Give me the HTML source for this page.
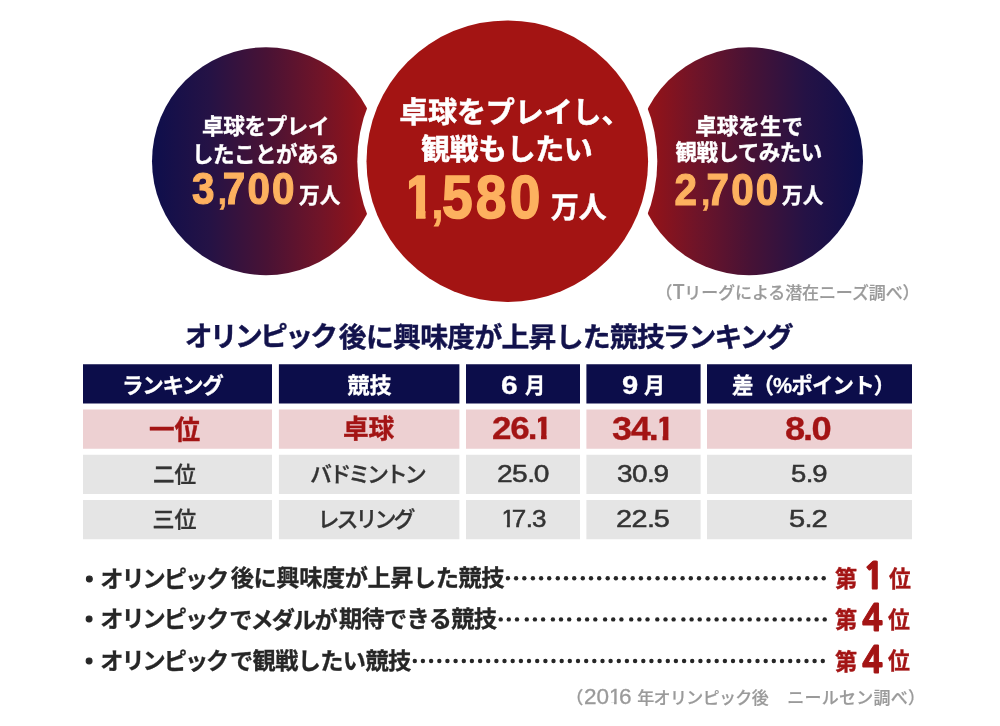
<!DOCTYPE html>
<html lang="ja">
<head>
<meta charset="utf-8">
<title>卓球の潜在ニーズ</title>
<style>
*{margin:0;padding:0;box-sizing:border-box}
html,body{width:1000px;height:726px;background:#fff;overflow:hidden}
body{position:relative;font-family:"Liberation Sans","Noto Sans CJK JP",sans-serif;color:#333}
.t{position:absolute;white-space:nowrap;line-height:1;font-weight:700;transform-origin:0 0;paint-order:stroke fill}
svg.bg{position:absolute;left:0;top:0}
.ib,.ir,.ir2{display:inline-block}
.ir2{clip-path:polygon(.1em 0,.38em 0,.38em .72em,.352em .72em,.352em 1em,.239em 1em,.239em .72em,.1em .72em);margin:0 -.1em 0 -.02em}
.ib{clip-path:polygon(.135em 0,.42em 0,.42em .7em,.382em .7em,.382em 1em,.222em 1em,.222em .7em,.135em .7em);margin:0 -.17em 0 -.07em}
.ir{clip-path:polygon(.115em 0,.38em 0,.38em .72em,.352em .72em,.352em 1em,.239em 1em,.239em .72em,.115em .72em);margin:0 -.11em 0 -.05em}
.pb{margin:0 -.01em 0 -.02em}
.pr{margin:0 -.02em 0 0}
</style>
</head>
<body>
<svg class="bg" width="1000" height="726" viewBox="0 0 1000 726">
  <defs>
    <linearGradient id="gl" x1="0" y1="0" x2="1" y2="0">
      <stop offset="0" stop-color="#0e0f4c"/>
      <stop offset=".035" stop-color="#110f4b"/>
      <stop offset=".254" stop-color="#251245"/>
      <stop offset=".5" stop-color="#481235"/>
      <stop offset=".737" stop-color="#701428"/>
      <stop offset=".886" stop-color="#8b131c"/>
      <stop offset="1" stop-color="#a01417"/>
    </linearGradient>
    <linearGradient id="gr" x1="0" y1="0" x2="1" y2="0">
      <stop offset="0" stop-color="#a01417"/>
      <stop offset=".114" stop-color="#8b131c"/>
      <stop offset=".263" stop-color="#701428"/>
      <stop offset=".5" stop-color="#481235"/>
      <stop offset=".746" stop-color="#251245"/>
      <stop offset=".965" stop-color="#110f4b"/>
      <stop offset="1" stop-color="#0e0f4c"/>
    </linearGradient>
    <clipPath id="c1"><path d="M5.6 -61.7H24.1V6.2H13.5V-7.7H5.6Z"/></clipPath>
  </defs>
  <circle cx="266" cy="161.2" r="114" fill="url(#gl)"/>
  <circle cx="749" cy="161.2" r="114" fill="url(#gr)"/>
  <circle cx="507.3" cy="161.2" r="150" fill="#fff"/>
  <circle cx="507.3" cy="161.2" r="140.8" fill="#a31413"/>
  <path fill="#0c0d4a" d="M83 364.3H272V403.6H83ZM278.9 364.3H459.4V403.6H278.9ZM466 364.3H580V403.6H466ZM586.4 364.3H700.6V403.6H586.4ZM707 364.3H912V403.6H707Z"/>
  <path fill="#edd0d2" d="M83 409.5H272V448.8H83ZM278.9 409.5H459.4V448.8H278.9ZM466 409.5H580V448.8H466ZM586.4 409.5H700.6V448.8H586.4ZM707 409.5H912V448.8H707Z"/>
  <path fill="#e5e5e5" d="M83 454.7H272V494.0H83ZM278.9 454.7H459.4V494.0H278.9ZM466 454.7H580V494.0H466ZM586.4 454.7H700.6V494.0H586.4ZM707 454.7H912V494.0H707Z"/>
  <path fill="#e5e5e5" d="M83 499.9H272V539.2H83ZM278.9 499.9H459.4V539.2H278.9ZM466 499.9H580V539.2H466ZM586.4 499.9H700.6V539.2H586.4ZM707 499.9H912V539.2H707Z"/>
  <g fill="#262626">
<circle cx="507.9" cy="578.2" r="2.2"/>
<circle cx="516.1" cy="578.2" r="2.2"/>
<circle cx="524.3" cy="578.2" r="2.2"/>
<circle cx="532.9" cy="578.2" r="2.2"/>
<circle cx="541.1" cy="578.2" r="2.2"/>
<circle cx="549.2" cy="578.2" r="2.2"/>
<circle cx="557.8" cy="578.2" r="2.2"/>
<circle cx="566.0" cy="578.2" r="2.2"/>
<circle cx="574.2" cy="578.2" r="2.2"/>
<circle cx="582.8" cy="578.2" r="2.2"/>
<circle cx="591.0" cy="578.2" r="2.2"/>
<circle cx="599.2" cy="578.2" r="2.2"/>
<circle cx="607.7" cy="578.2" r="2.2"/>
<circle cx="615.9" cy="578.2" r="2.2"/>
<circle cx="624.1" cy="578.2" r="2.2"/>
<circle cx="632.7" cy="578.2" r="2.2"/>
<circle cx="640.9" cy="578.2" r="2.2"/>
<circle cx="649.1" cy="578.2" r="2.2"/>
<circle cx="657.6" cy="578.2" r="2.2"/>
<circle cx="665.8" cy="578.2" r="2.2"/>
<circle cx="674.0" cy="578.2" r="2.2"/>
<circle cx="682.6" cy="578.2" r="2.2"/>
<circle cx="690.8" cy="578.2" r="2.2"/>
<circle cx="699.0" cy="578.2" r="2.2"/>
<circle cx="707.5" cy="578.2" r="2.2"/>
<circle cx="715.7" cy="578.2" r="2.2"/>
<circle cx="723.9" cy="578.2" r="2.2"/>
<circle cx="732.5" cy="578.2" r="2.2"/>
<circle cx="740.7" cy="578.2" r="2.2"/>
<circle cx="748.9" cy="578.2" r="2.2"/>
<circle cx="757.4" cy="578.2" r="2.2"/>
<circle cx="765.6" cy="578.2" r="2.2"/>
<circle cx="773.8" cy="578.2" r="2.2"/>
<circle cx="782.4" cy="578.2" r="2.2"/>
<circle cx="790.6" cy="578.2" r="2.2"/>
<circle cx="798.8" cy="578.2" r="2.2"/>
<circle cx="807.3" cy="578.2" r="2.2"/>
<circle cx="815.5" cy="578.2" r="2.2"/>
<circle cx="823.7" cy="578.2" r="2.2"/>
<circle cx="500.7" cy="619.4" r="2.2"/>
<circle cx="508.8" cy="619.4" r="2.2"/>
<circle cx="517.0" cy="619.4" r="2.2"/>
<circle cx="526.8" cy="619.4" r="2.2"/>
<circle cx="534.9" cy="619.4" r="2.2"/>
<circle cx="543.1" cy="619.4" r="2.2"/>
<circle cx="552.9" cy="619.4" r="2.2"/>
<circle cx="561.0" cy="619.4" r="2.2"/>
<circle cx="569.2" cy="619.4" r="2.2"/>
<circle cx="579.0" cy="619.4" r="2.2"/>
<circle cx="587.1" cy="619.4" r="2.2"/>
<circle cx="595.3" cy="619.4" r="2.2"/>
<circle cx="605.1" cy="619.4" r="2.2"/>
<circle cx="613.2" cy="619.4" r="2.2"/>
<circle cx="621.4" cy="619.4" r="2.2"/>
<circle cx="631.2" cy="619.4" r="2.2"/>
<circle cx="639.4" cy="619.4" r="2.2"/>
<circle cx="647.5" cy="619.4" r="2.2"/>
<circle cx="657.3" cy="619.4" r="2.2"/>
<circle cx="665.5" cy="619.4" r="2.2"/>
<circle cx="673.6" cy="619.4" r="2.2"/>
<circle cx="683.4" cy="619.4" r="2.2"/>
<circle cx="691.6" cy="619.4" r="2.2"/>
<circle cx="699.7" cy="619.4" r="2.2"/>
<circle cx="708.4" cy="619.4" r="2.2"/>
<circle cx="716.6" cy="619.4" r="2.2"/>
<circle cx="724.7" cy="619.4" r="2.2"/>
<circle cx="733.4" cy="619.4" r="2.2"/>
<circle cx="741.6" cy="619.4" r="2.2"/>
<circle cx="749.7" cy="619.4" r="2.2"/>
<circle cx="758.4" cy="619.4" r="2.2"/>
<circle cx="766.6" cy="619.4" r="2.2"/>
<circle cx="774.7" cy="619.4" r="2.2"/>
<circle cx="783.4" cy="619.4" r="2.2"/>
<circle cx="791.6" cy="619.4" r="2.2"/>
<circle cx="799.7" cy="619.4" r="2.2"/>
<circle cx="808.4" cy="619.4" r="2.2"/>
<circle cx="816.6" cy="619.4" r="2.2"/>
<circle cx="824.7" cy="619.4" r="2.2"/>
<circle cx="414.8" cy="661.0" r="2.2"/>
<circle cx="422.9" cy="661.0" r="2.2"/>
<circle cx="431.1" cy="661.0" r="2.2"/>
<circle cx="439.3" cy="661.0" r="2.2"/>
<circle cx="447.4" cy="661.0" r="2.2"/>
<circle cx="455.6" cy="661.0" r="2.2"/>
<circle cx="463.8" cy="661.0" r="2.2"/>
<circle cx="471.9" cy="661.0" r="2.2"/>
<circle cx="480.1" cy="661.0" r="2.2"/>
<circle cx="488.2" cy="661.0" r="2.2"/>
<circle cx="496.4" cy="661.0" r="2.2"/>
<circle cx="504.5" cy="661.0" r="2.2"/>
<circle cx="512.7" cy="661.0" r="2.2"/>
<circle cx="520.9" cy="661.0" r="2.2"/>
<circle cx="529.0" cy="661.0" r="2.2"/>
<circle cx="537.2" cy="661.0" r="2.2"/>
<circle cx="545.4" cy="661.0" r="2.2"/>
<circle cx="553.5" cy="661.0" r="2.2"/>
<circle cx="561.7" cy="661.0" r="2.2"/>
<circle cx="569.8" cy="661.0" r="2.2"/>
<circle cx="578.0" cy="661.0" r="2.2"/>
<circle cx="586.2" cy="661.0" r="2.2"/>
<circle cx="594.3" cy="661.0" r="2.2"/>
<circle cx="602.5" cy="661.0" r="2.2"/>
<circle cx="610.6" cy="661.0" r="2.2"/>
<circle cx="618.8" cy="661.0" r="2.2"/>
<circle cx="626.9" cy="661.0" r="2.2"/>
<circle cx="635.1" cy="661.0" r="2.2"/>
<circle cx="643.3" cy="661.0" r="2.2"/>
<circle cx="651.4" cy="661.0" r="2.2"/>
<circle cx="659.6" cy="661.0" r="2.2"/>
<circle cx="667.8" cy="661.0" r="2.2"/>
<circle cx="675.9" cy="661.0" r="2.2"/>
<circle cx="684.1" cy="661.0" r="2.2"/>
<circle cx="692.2" cy="661.0" r="2.2"/>
<circle cx="700.4" cy="661.0" r="2.2"/>
<circle cx="708.6" cy="661.0" r="2.2"/>
<circle cx="716.7" cy="661.0" r="2.2"/>
<circle cx="724.9" cy="661.0" r="2.2"/>
<circle cx="733.0" cy="661.0" r="2.2"/>
<circle cx="741.2" cy="661.0" r="2.2"/>
<circle cx="749.3" cy="661.0" r="2.2"/>
<circle cx="757.5" cy="661.0" r="2.2"/>
<circle cx="765.7" cy="661.0" r="2.2"/>
<circle cx="773.8" cy="661.0" r="2.2"/>
<circle cx="782.0" cy="661.0" r="2.2"/>
<circle cx="790.2" cy="661.0" r="2.2"/>
<circle cx="798.3" cy="661.0" r="2.2"/>
<circle cx="806.5" cy="661.0" r="2.2"/>
<circle cx="814.6" cy="661.0" r="2.2"/>
<circle cx="822.8" cy="661.0" r="2.2"/>
  </g>
</svg>
<div id="l1" class="t" style="left:202.10px;top:117.20px;font-size:21.50px;color:#fff;letter-spacing:-0.32px;-webkit-text-stroke:0.4px #fff">卓球をプレイ</div>
<div id="l2" class="t" style="left:192.10px;top:144.90px;font-size:21.50px;color:#fff;letter-spacing:-0.51px;-webkit-text-stroke:0.4px #fff">したことがある</div>
<svg class="bg" width="1000" height="726" viewBox="0 0 1000 726"><g id="l3" transform="translate(191.90 204.00) scale(0.906 1)" font-family="'Liberation Sans',sans-serif" font-weight="700" font-size="44.60" fill="#fdb15f" stroke="#fdb15f" stroke-width="1.2" stroke-linejoin="miter" stroke-miterlimit="3"><text>3</text><text class="cm" x="28.5" font-size="37" stroke-width=".6">,</text><text x="34 61.3 88.4">700</text></g></svg>
<div id="l4" class="t" style="left:299.40px;top:185.70px;font-size:21.50px;color:#fff;-webkit-text-stroke:0.4px #fff;transform:scaleX(0.963)">万人</div>
<div id="m1" class="t" style="left:399.15px;top:99.30px;font-size:29.00px;color:#fff;letter-spacing:-0.10px;-webkit-text-stroke:0.5px #fff">卓球をプレイし、</div>
<div id="m2" class="t" style="left:420.90px;top:135.85px;font-size:29.00px;color:#fff;letter-spacing:-0.42px;-webkit-text-stroke:0.5px #fff">観戦もしたい</div>
<svg class="bg" width="1000" height="726" viewBox="0 0 1000 726"><g id="m3" transform="translate(403.95 218.25) scale(0.894 1)" font-family="'Liberation Sans',sans-serif" font-weight="700" font-size="61.70" fill="#fdb15f" stroke="#fdb15f" stroke-width="1.6" stroke-linejoin="miter" stroke-miterlimit="3"><text clip-path="url(#c1)">1</text><text class="cm" x="30.5" font-size="50" stroke-width=".8">,</text><text x="42.6 80.2 118.3">580</text></g></svg>
<div id="m4" class="t" style="left:550.80px;top:193.80px;font-size:29.00px;color:#fff;-webkit-text-stroke:0.5px #fff;transform:scaleX(0.958)">万人</div>
<div id="r1" class="t" style="left:695.20px;top:117.20px;font-size:21.50px;color:#fff;letter-spacing:0.08px;-webkit-text-stroke:0.4px #fff">卓球を生で</div>
<div id="r2" class="t" style="left:675.50px;top:143.35px;font-size:21.50px;color:#fff;letter-spacing:-0.51px;-webkit-text-stroke:0.4px #fff">観戦してみたい</div>
<svg class="bg" width="1000" height="726" viewBox="0 0 1000 726"><g id="r3" transform="translate(674.50 204.50) scale(0.906 1)" font-family="'Liberation Sans',sans-serif" font-weight="700" font-size="44.60" fill="#fdb15f" stroke="#fdb15f" stroke-width="1.2" stroke-linejoin="miter" stroke-miterlimit="3"><text>2</text><text class="cm" x="29.3" font-size="37" stroke-width=".6">,</text><text x="35.2 62.6 89.8">700</text></g></svg>
<div id="r4" class="t" style="left:782.00px;top:185.70px;font-size:21.50px;color:#fff;-webkit-text-stroke:0.4px #fff;transform:scaleX(0.963)">万人</div>
<div id="cap" class="t" style="left:655.50px;top:280.90px;font-size:17.00px;color:#9a9a9a;font-weight:500;font-family:'Noto Sans CJK JP','Liberation Sans',sans-serif;letter-spacing:-0.11px;-webkit-text-stroke:0.2px #9a9a9a">（<span style="font-size:1.18em;letter-spacing:-.3px">T</span>リーグによる潜在ニーズ調べ）</div>
<div class="ln">
<span id="ttl1" class="t" style="left:184.75px;top:322.90px;font-size:27.80px;color:#12124c;letter-spacing:-2.70px;-webkit-text-stroke:0.4px #12124c">オリンピック</span>
<span id="ttl2" class="t" style="left:338.80px;top:323.75px;font-size:27.80px;color:#12124c;letter-spacing:-0.68px;-webkit-text-stroke:0.4px #12124c">後に興味度が上昇した競技</span>
<span id="ttl3" class="t" style="left:662.50px;top:323.50px;font-size:27.80px;color:#12124c;letter-spacing:-1.80px;-webkit-text-stroke:0.4px #12124c">ランキング</span>
</div>
<div id="h1" class="t" style="left:122.00px;top:375.50px;font-size:21.50px;color:#fff;letter-spacing:-1.28px;-webkit-text-stroke:0.3px #fff">ランキング</div>
<div id="h2" class="t" style="left:347.40px;top:375.00px;font-size:22.00px;color:#fff;-webkit-text-stroke:0.3px #fff">競技</div>
<div id="h3a" class="t" style="left:501.10px;top:372.60px;font-size:24.93px;color:#fff;font-family:'Liberation Sans',sans-serif;-webkit-text-stroke:0.3px #fff;transform:scaleX(1.199)">6</div>
<div id="h3b" class="t" style="left:525.10px;top:374.50px;font-size:22.00px;color:#fff;-webkit-text-stroke:0.3px #fff;transform:scaleX(0.917)">月</div>
<div id="h4a" class="t" style="left:622.00px;top:372.60px;font-size:24.93px;color:#fff;font-family:'Liberation Sans',sans-serif;-webkit-text-stroke:0.3px #fff;transform:scaleX(1.170)">9</div>
<div id="h4b" class="t" style="left:644.30px;top:374.50px;font-size:22.00px;color:#fff;-webkit-text-stroke:0.3px #fff;transform:scaleX(0.958)">月</div>
<div id="h5" class="t" style="left:731.90px;top:375.90px;font-size:21.50px;color:#fff;letter-spacing:-0.89px;-webkit-text-stroke:0.3px #fff">差（%ポイント）</div>
<div id="a1" class="t" style="left:148.80px;top:416.60px;font-size:26.00px;color:#a31414;-webkit-text-stroke:0.4px #a31414;transform:scaleX(0.985)">一位</div>
<div id="a2" class="t" style="left:342.70px;top:416.00px;font-size:26.00px;color:#a31414;-webkit-text-stroke:0.4px #a31414;transform:scaleX(0.985)">卓球</div>
<div id="a3" class="t" style="left:492.30px;top:411.75px;font-size:31.98px;color:#a31414;font-family:'Liberation Sans',sans-serif;letter-spacing:-1.20px;-webkit-text-stroke:0.3px #a31414;transform:scaleX(1.095)">26<span class="pb">.</span><span class="ib">1</span></div>
<div id="a4" class="t" style="left:612.30px;top:413.20px;font-size:32.55px;color:#a31414;font-family:'Liberation Sans',sans-serif;letter-spacing:-1.20px;-webkit-text-stroke:0.3px #a31414;transform:scaleX(1.109)">34<span class="pb">.</span><span class="ib">1</span></div>
<div id="a5" class="t" style="left:785.40px;top:413.20px;font-size:32.55px;color:#a31414;font-family:'Liberation Sans',sans-serif;letter-spacing:-1.20px;-webkit-text-stroke:0.3px #a31414;transform:scaleX(1.114)">8<span class="pb">.</span>0</div>
<div id="b1" class="t" style="left:153.00px;top:464.00px;font-size:22.00px;color:#333;font-weight:500;-webkit-text-stroke:0.3px #333;transform:scaleX(0.981)">二位</div>
<div id="b2" class="t" style="left:310.00px;top:463.50px;font-size:22.00px;color:#333;font-weight:500;letter-spacing:-3.20px;-webkit-text-stroke:0.3px #333">バドミントン</div>
<div id="b3" class="t" style="left:497.00px;top:462.00px;font-size:24.40px;color:#333;font-weight:400;font-family:'Liberation Sans',sans-serif;letter-spacing:-0.50px;-webkit-text-stroke:0.5px #333;transform:scaleX(1.153)">25<span class="pr">.</span>0</div>
<div id="b4" class="t" style="left:617.40px;top:462.00px;font-size:24.40px;color:#333;font-weight:400;font-family:'Liberation Sans',sans-serif;letter-spacing:-0.50px;-webkit-text-stroke:0.5px #333;transform:scaleX(1.146)">30<span class="pr">.</span>9</div>
<div id="b5" class="t" style="left:790.60px;top:462.00px;font-size:24.40px;color:#333;font-weight:400;font-family:'Liberation Sans',sans-serif;letter-spacing:-0.50px;-webkit-text-stroke:0.5px #333;transform:scaleX(1.125)">5<span class="pr">.</span>9</div>
<div id="c1" class="t" style="left:152.50px;top:508.75px;font-size:22.00px;color:#333;font-weight:500;-webkit-text-stroke:0.3px #333">三位</div>
<div id="c2" class="t" style="left:317.50px;top:508.50px;font-size:22.00px;color:#333;font-weight:500;letter-spacing:-3.00px;-webkit-text-stroke:0.3px #333">レスリング</div>
<div id="c3" class="t" style="left:501.50px;top:507.00px;font-size:24.40px;color:#333;font-weight:400;font-family:'Liberation Sans',sans-serif;letter-spacing:-0.50px;-webkit-text-stroke:0.5px #333;transform:scaleX(1.066)"><span class="ir">1</span>7<span class="pr">.</span>3</div>
<div id="c4" class="t" style="left:616.00px;top:507.00px;font-size:24.40px;color:#333;font-weight:400;font-family:'Liberation Sans',sans-serif;letter-spacing:-0.50px;-webkit-text-stroke:0.5px #333;transform:scaleX(1.182)">22<span class="pr">.</span>5</div>
<div id="c5" class="t" style="left:789.10px;top:507.00px;font-size:24.40px;color:#333;font-weight:400;font-family:'Liberation Sans',sans-serif;letter-spacing:-0.50px;-webkit-text-stroke:0.5px #333;transform:scaleX(1.192)">5<span class="pr">.</span>2</div>
<div class="ln">
<span id="k1a" class="t" style="left:77.80px;top:568.60px;font-size:23.20px;color:#262626;-webkit-text-stroke:1px #262626">・</span>
<span id="k1b" class="t" style="left:100.25px;top:567.70px;font-size:23.20px;color:#262626;letter-spacing:-2.03px;-webkit-text-stroke:0.3px #262626">オリンピック</span>
<span id="k1c" class="t" style="left:230.80px;top:567.20px;font-size:23.20px;color:#262626;letter-spacing:-0.41px;-webkit-text-stroke:0.3px #262626">後に興味度が上昇した競技</span>
</div>
<div class="ln">
<span id="k2a" class="t" style="left:77.60px;top:609.20px;font-size:23.20px;color:#262626;-webkit-text-stroke:1px #262626">・</span>
<span id="k2b" class="t" style="left:100.25px;top:608.40px;font-size:23.20px;color:#262626;letter-spacing:-2.03px;-webkit-text-stroke:0.3px #262626">オリンピック</span>
<span id="k2c" class="t" style="left:229.20px;top:608.80px;font-size:23.20px;color:#262626;letter-spacing:-1.88px;-webkit-text-stroke:0.3px #262626">でメダルが</span>
<span id="k2d" class="t" style="left:338.95px;top:608.40px;font-size:23.20px;color:#262626;letter-spacing:-0.63px;-webkit-text-stroke:0.3px #262626">期待できる競技</span>
</div>
<div class="ln">
<span id="k3a" class="t" style="left:77.60px;top:650.80px;font-size:23.20px;color:#262626;-webkit-text-stroke:1px #262626">・</span>
<span id="k3b" class="t" style="left:100.25px;top:650.00px;font-size:23.20px;color:#262626;letter-spacing:-2.03px;-webkit-text-stroke:0.3px #262626">オリンピック</span>
<span id="k3c" class="t" style="left:230.05px;top:650.00px;font-size:23.20px;color:#262626;letter-spacing:-0.63px;-webkit-text-stroke:0.3px #262626">で観戦したい競技</span>
</div>
<div id="p1a" class="t" style="left:834.90px;top:567.90px;font-size:23.00px;color:#a31414;-webkit-text-stroke:0.4px #a31414;transform:scaleX(0.965)">第</div>
<div id="p1b" class="t" style="left:863.15px;top:558.00px;font-size:36.11px;color:#a31414;font-weight:800;font-family:'NanumGothic','Liberation Sans',sans-serif;-webkit-text-stroke:1px #a31414;transform:scaleX(1.006)">1</div>
<div id="p1c" class="t" style="left:888.90px;top:567.50px;font-size:23.00px;color:#a31414;-webkit-text-stroke:0.4px #a31414;transform:scaleX(0.949)">位</div>
<div id="p2a" class="t" style="left:834.90px;top:608.50px;font-size:23.00px;color:#a31414;-webkit-text-stroke:0.4px #a31414;transform:scaleX(0.965)">第</div>
<div id="p2b" class="t" style="left:861.50px;top:599.75px;font-size:36.80px;color:#a31414;font-weight:800;font-family:'NanumGothic','Liberation Sans',sans-serif;-webkit-text-stroke:1px #a31414;transform:scaleX(0.934)">4</div>
<div id="p2c" class="t" style="left:888.30px;top:609.10px;font-size:23.00px;color:#a31414;-webkit-text-stroke:0.4px #a31414;transform:scaleX(0.949)">位</div>
<div id="p3a" class="t" style="left:834.90px;top:650.60px;font-size:23.00px;color:#a31414;-webkit-text-stroke:0.4px #a31414;transform:scaleX(0.965)">第</div>
<div id="p3b" class="t" style="left:861.50px;top:641.55px;font-size:36.80px;color:#a31414;font-weight:800;font-family:'NanumGothic','Liberation Sans',sans-serif;-webkit-text-stroke:1px #a31414;transform:scaleX(0.934)">4</div>
<div id="p3c" class="t" style="left:888.30px;top:650.20px;font-size:23.00px;color:#a31414;-webkit-text-stroke:0.4px #a31414;transform:scaleX(0.949)">位</div>
<div class="ln">
<span id="f1a" class="t" style="left:566.20px;top:689.80px;font-size:17.00px;color:#9a9a9a;font-weight:500;-webkit-text-stroke:0.3px #9a9a9a">（</span>
<span id="f1b" class="t" style="left:583.70px;top:686.70px;font-size:21.54px;color:#9a9a9a;font-weight:400;font-family:'Liberation Sans',sans-serif;-webkit-text-stroke:0.3px #9a9a9a;transform:scaleX(1.047)">20<span class="ir2">1</span>6</span>
<span id="f2" class="t" style="left:637.25px;top:689.60px;font-size:17.00px;color:#9a9a9a;font-weight:500;letter-spacing:-0.65px;-webkit-text-stroke:0.2px #9a9a9a">年オリンピック後</span>
<span id="f3" class="t" style="left:787.35px;top:689.60px;font-size:17.00px;color:#9a9a9a;font-weight:500;letter-spacing:0.24px;-webkit-text-stroke:0.2px #9a9a9a">ニールセン調べ）</span>
</div>
</body>
</html>
